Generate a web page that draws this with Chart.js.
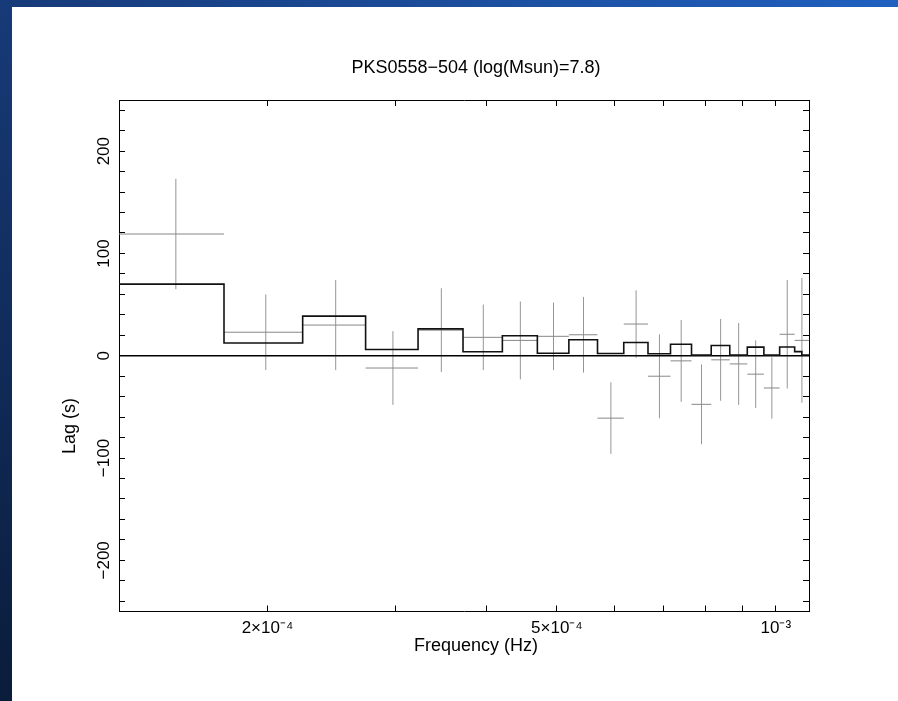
<!DOCTYPE html>
<html>
<head>
<meta charset="utf-8">
<title>PKS0558-504 lag-frequency spectrum</title>
<script src="https://cdn.jsdelivr.net/npm/chart.js@4.4.1/dist/chart.umd.min.js"></script>
<style>
    html, body { margin: 0; padding: 0; }
    body {
        width: 898px;
        height: 701px;
        overflow: hidden;
        position: relative;
        background: linear-gradient(to top right, #0a1c3a 0%, #173a78 50%, #2060c0 100%);
    }
    #panel { position: absolute; left: 12px; top: 7px; right: 0; bottom: 0; background: #fff; }
    #lag-chart { position: absolute; left: 0; top: 0; }
</style>
</head>
<body>
<div id="panel"></div>
<canvas id="lag-chart" width="898" height="701"></canvas>
<script>
// Frequency bins (Hz) of the measured lags
const binEdges = [1.250e-4, 1.743e-4, 2.236e-4, 2.729e-4, 3.222e-4, 3.715e-4, 4.208e-4,
    4.701e-4, 5.194e-4, 5.687e-4, 6.180e-4, 6.673e-4, 7.166e-4, 7.659e-4, 8.152e-4,
    8.645e-4, 9.138e-4, 9.631e-4, 1.0124e-3, 1.0617e-3, 1.1110e-3];
// Measured lag (s) and its error per bin
const lagValues = [119, 23, 30, -12, 25, 18, 15, 19, 20.5, -61, 31, -20, -5, -47.5, -4, -8, -18, -31.5, 21, 15];
const lagErrors = [54, 37, 44, 36, 41, 32, 38, 33, 37, 35, 33, 41, 40, 39, 40, 40, 33, 30, 53, 61];

// Model (black step line)
const modelEdges = [1.250e-4, 1.743e-4, 2.236e-4, 2.729e-4, 3.222e-4, 3.715e-4, 4.208e-4,
    4.701e-4, 5.194e-4, 5.687e-4, 6.180e-4, 6.673e-4, 7.166e-4, 7.659e-4, 8.152e-4,
    8.645e-4, 9.138e-4, 9.631e-4, 1.0124e-3, 1.0617e-3, 1.0860e-3, 1.1110e-3];
const modelLag = [70, 12.4, 38.7, 6.1, 26.3, 3.9, 19.5, 2.5, 15.6, 2.2, 13, 2, 11.3, 0.6, 10, 0.6, 8.4, 0.6, 8.6, 4, 0.8];

// Axes
const xMin = 1.25e-4;
const xMax = 1.111e-3;
const yMin = -250;
const yMax = 250;
const xTicks = [2e-4, 3e-4, 4e-4, 5e-4, 6e-4, 7e-4, 8e-4, 9e-4, 1e-3];
const xLabelValues = [2e-4, 5e-4, 1e-3];
const xLabelTexts = ['2\u00d710\u207b\u2074', '5\u00d710\u207b\u2074', '10\u207b\u00b3'];
const yTicks = [-240, -220, -200, -180, -160, -140, -120, -100, -80, -60, -40, -20, 0,
    20, 40, 60, 80, 100, 120, 140, 160, 180, 200, 220, 240];
const yLabelTicks = [-200, -100, 0, 100, 200];

const FONT = '"Liberation Sans", Arial, Helvetica, sans-serif';
Chart.defaults.font.family = FONT;
Chart.defaults.color = '#000';

function stepPoints(edges, values) {
    const pts = values.map((v, i) => ({ x: edges[i], y: v }));
    pts.push({ x: edges[edges.length - 1], y: values[values.length - 1] });
    return pts;
}

// crosses: one horizontal and one vertical segment per bin, split by null gaps
function errorBarPoints() {
    const horiz = [];
    const vert = [];
    lagValues.forEach((v, i) => {
        const lo = binEdges[i];
        const hi = binEdges[i + 1];
        const mid = (lo + hi) / 2;
        horiz.push({ x: lo, y: v }, { x: hi, y: v }, { x: mid, y: null });
        vert.push({ x: mid, y: v - lagErrors[i] }, { x: mid, y: v + lagErrors[i] }, { x: mid, y: null });
    });
    return { horiz, vert };
}

function xLabel(value) {
    const idx = xLabelValues.findIndex(v => Math.abs(v - value) < 1e-9);
    return idx >= 0 ? xLabelTexts[idx] : '';
}

function yLabel(value) {
    return yLabelTicks.includes(value) ? String(value).replace('-', '\u2212') : '';
}

const tickGrid = {
    drawOnChartArea: false,
    drawTicks: true,
    tickLength: -6,
    tickColor: '#000',
    tickWidth: 1
};
const axisBorder = { display: true, color: '#000', width: 1 };

// axis titles, placed like the original plot (a little off the plot centre)
const axisTitles = {
    id: 'axisTitles',
    afterDraw(chart) {
        const { ctx, chartArea } = chart;
        ctx.save();
        ctx.fillStyle = '#000';
        ctx.font = '18px ' + FONT;
        ctx.textAlign = 'center';
        ctx.textBaseline = 'middle';
        ctx.fillText('Frequency (Hz)', (chartArea.left + chartArea.right) / 2 + 12, chartArea.bottom + 35);
        ctx.translate(chartArea.left - 49, chartArea.top + 326);
        ctx.rotate(-Math.PI / 2);
        ctx.fillText('Lag (s)', 0, 0);
        ctx.restore();
    }
};

const bars = errorBarPoints();

new Chart(document.getElementById('lag-chart'), {
    type: 'line',
    data: {
        datasets: [
            {
                label: 'Model',
                data: stepPoints(modelEdges, modelLag),
                stepped: 'before',
                borderColor: '#111',
                borderWidth: 1.6,
                pointRadius: 0,
                fill: false
            },
            {
                label: 'Zero',
                data: [{ x: xMin, y: 0 }, { x: xMax, y: 0 }],
                borderColor: '#000',
                borderWidth: 1.4,
                pointRadius: 0,
                fill: false
            },
            {
                label: 'Lag bins',
                data: bars.horiz,
                borderColor: 'rgb(135, 135, 135)',
                borderWidth: 1,
                pointRadius: 0,
                spanGaps: false,
                fill: false
            },
            {
                label: 'Lag errors',
                data: bars.vert,
                borderColor: 'rgb(150, 150, 150)',
                borderWidth: 1,
                pointRadius: 0,
                spanGaps: false,
                fill: false
            }
        ]
    },
    options: {
        responsive: false,
        animation: false,
        layout: { padding: { left: 54, right: 0, top: 0, bottom: 0 } },
        plugins: {
            legend: { display: false },
            tooltip: { enabled: false },
            title: {
                display: true,
                text: 'PKS0558\u2212504 (log(Msun)=7.8)',
                color: '#000',
                font: { size: 18, weight: 'normal', lineHeight: 1.2 },
                padding: { top: 57, bottom: 21.4 }
            }
        },
        scales: {
            x: {
                type: 'logarithmic',
                position: 'bottom',
                min: xMin,
                max: xMax,
                afterBuildTicks: axis => { axis.ticks = xTicks.map(v => ({ value: v })); },
                afterFit: axis => { axis.height = 89.5; },
                ticks: {
                    autoSkip: false,
                    maxRotation: 0,
                    padding: 13,
                    font: { size: 17 },
                    callback: value => xLabel(value)
                },
                grid: tickGrid,
                border: axisBorder
            },
            x2: {
                type: 'logarithmic',
                position: 'top',
                min: xMin,
                max: xMax,
                afterBuildTicks: axis => { axis.ticks = xTicks.map(v => ({ value: v })); },
                afterFit: axis => { axis.height = 0; },
                ticks: { autoSkip: false, callback: () => '' },
                grid: tickGrid,
                border: axisBorder
            },
            y: {
                type: 'linear',
                position: 'left',
                min: yMin,
                max: yMax,
                afterBuildTicks: axis => { axis.ticks = yTicks.map(v => ({ value: v })); },
                afterFit: axis => { axis.width = 65; },
                ticks: {
                    autoSkip: false,
                    minRotation: 90,
                    maxRotation: 90,
                    crossAlign: 'center',
                    padding: 2,
                    font: { size: 17 },
                    callback: value => yLabel(value)
                },
                grid: tickGrid,
                border: axisBorder
            },
            y2: {
                type: 'linear',
                position: 'right',
                min: yMin,
                max: yMax,
                afterBuildTicks: axis => { axis.ticks = yTicks.map(v => ({ value: v })); },
                afterFit: axis => { axis.width = 89; },
                ticks: { autoSkip: false, callback: () => '' },
                grid: tickGrid,
                border: axisBorder
            }
        }
    },
    plugins: [axisTitles]
});
</script>
</body>
</html>
